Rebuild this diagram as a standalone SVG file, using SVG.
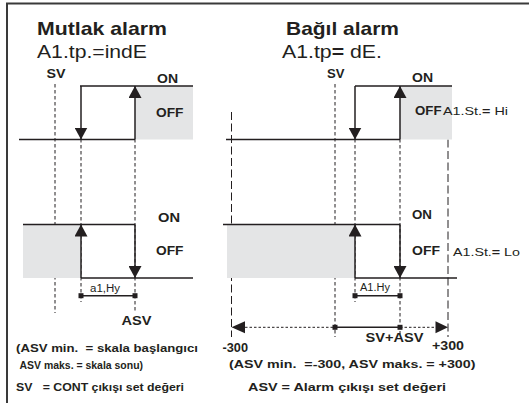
<svg xmlns="http://www.w3.org/2000/svg" width="529" height="403" viewBox="0 0 529 403">
<style>
text{font-family:"Liberation Sans",Arial,Helvetica,sans-serif;fill:#231f20}
.b{font-weight:bold}
.t{font-size:18.5px;font-weight:bold}
.s{font-size:17.5px}
.l{font-size:12px;font-weight:bold}
.n{font-size:11.5px;font-weight:bold}
.h{font-size:10px}
.p{font-size:11.5px}
.ln{stroke:#231f20;stroke-width:1.5;fill:none}
.ar{stroke:#231f20;stroke-width:1.5;fill:none;marker-end:url(#ah)}
.sd{stroke:#231f20;stroke-width:1;stroke-dasharray:3.5 2.5;fill:none}
.ld{stroke:#231f20;stroke-width:1;stroke-dasharray:8 3.5;fill:none}
.dt{stroke:#231f20;stroke-width:1;stroke-dasharray:2.5 2;fill:none}
.g{fill:#e4e5e6}
.m{fill:#231f20}
</style>
<defs>
<marker id="ah" markerUnits="userSpaceOnUse" markerWidth="12" markerHeight="13" viewBox="0 0 12 13" refX="12" refY="6.5" orient="auto">
<path d="M0,0 L12,6.5 L0,13 z" fill="#231f20"/>
</marker>
</defs>

<g id="frame">
<path d="M7,403 V3.5 H529" stroke="#3a3a3a" stroke-width="2" fill="none"/>
</g>

<g id="titles">
<text class="t" x="37" y="35" textLength="130" lengthAdjust="spacingAndGlyphs">Mutlak alarm</text>
<text class="s" x="37" y="58" textLength="110" lengthAdjust="spacingAndGlyphs">A1.tp.=indE</text>
<text class="t" x="286" y="35" textLength="113" lengthAdjust="spacingAndGlyphs">Bağıl alarm</text>
<text class="s" x="282" y="58" textLength="100" lengthAdjust="spacingAndGlyphs">A1.tp<tspan class="b">=</tspan> dE.</text>
</g>

<g id="guides">
<line class="sd" x1="55" y1="84" x2="55" y2="313"/>
<line class="sd" x1="81" y1="139" x2="81" y2="302"/>
<line class="sd" x1="135" y1="139" x2="135" y2="312"/>
<line class="sd" x1="335" y1="84" x2="335" y2="337"/>
<line class="sd" x1="355" y1="139" x2="355" y2="302"/>
<line class="sd" x1="400" y1="139" x2="400" y2="337"/>
<line class="ld" x1="231.5" y1="112" x2="231.5" y2="337"/>
<line class="ld" x1="448" y1="128" x2="448" y2="337"/>
</g>

<g id="abs-high">
<rect class="g" x="135" y="86" width="58" height="53.5"/>
<path class="ln" d="M19,139.5 H135 M80,86 H193"/>
<line class="ar" x1="81" y1="86" x2="81" y2="139.5"/>
<line class="ar" x1="135" y1="139.5" x2="135" y2="86"/>
<text class="l" x="46.5" y="78" textLength="19" lengthAdjust="spacingAndGlyphs">SV</text>
<text class="l" x="157" y="83" textLength="21" lengthAdjust="spacingAndGlyphs">ON</text>
<text class="l" x="156" y="116.5" textLength="27.5" lengthAdjust="spacingAndGlyphs">OFF</text>
</g>

<g id="abs-low">
<rect class="g" x="23" y="224.5" width="58" height="53.5"/>
<path class="ln" d="M23,224.5 H135 M81,278 H193"/>
<line class="ar" x1="81" y1="278" x2="81" y2="224.5"/>
<line class="ar" x1="135" y1="224.5" x2="135" y2="278"/>
<text class="l" x="158" y="221.5" textLength="22" lengthAdjust="spacingAndGlyphs">ON</text>
<text class="l" x="156" y="255" textLength="27.5" lengthAdjust="spacingAndGlyphs">OFF</text>
<line class="ln" x1="81" y1="295.7" x2="135" y2="295.7" stroke-width="1"/>
<rect class="m" x="78.5" y="293.2" width="5" height="5"/>
<rect class="m" x="132.5" y="293.2" width="5" height="5"/>
<text class="h" x="90" y="291.5" textLength="30" lengthAdjust="spacingAndGlyphs">a1,Hy</text>
<text class="l" x="121.5" y="325" textLength="30" lengthAdjust="spacingAndGlyphs">ASV</text>
</g>

<g id="rel-high">
<rect class="g" x="400" y="86" width="52" height="53.5"/>
<path class="ln" d="M226,139.5 H400 M355,86 H452"/>
<line class="ar" x1="355" y1="86" x2="355" y2="139.5"/>
<line class="ar" x1="400" y1="139.5" x2="400" y2="86"/>
<text class="l" x="327" y="78" textLength="17.5" lengthAdjust="spacingAndGlyphs">SV</text>
<text class="l" x="412" y="82" textLength="21" lengthAdjust="spacingAndGlyphs">ON</text>
<text class="l" x="415" y="115" textLength="26.5" lengthAdjust="spacingAndGlyphs">OFF</text>
<text class="p" x="443" y="115" textLength="65" lengthAdjust="spacingAndGlyphs">A1.St.<tspan class="b">=</tspan> Hi</text>
</g>

<g id="rel-low">
<rect class="g" x="227" y="224.5" width="128" height="53.5"/>
<path class="ln" d="M223,224.5 H400 M355,278 H457"/>
<line class="ar" x1="355" y1="278" x2="355" y2="224.5"/>
<line class="ar" x1="400" y1="224.5" x2="400" y2="278"/>
<text class="l" x="412" y="218.5" textLength="20" lengthAdjust="spacingAndGlyphs">ON</text>
<text class="l" x="412" y="255" textLength="28" lengthAdjust="spacingAndGlyphs">OFF</text>
<text class="p" x="453" y="256" textLength="67" lengthAdjust="spacingAndGlyphs">A1.St.<tspan class="b">=</tspan> Lo</text>
<line class="ln" x1="355" y1="295.7" x2="400" y2="295.7" stroke-width="1"/>
<rect class="m" x="352.5" y="293.2" width="5" height="5"/>
<rect class="m" x="397.5" y="293.2" width="5" height="5"/>
<text class="h" x="360" y="290.7" textLength="30" lengthAdjust="spacingAndGlyphs">A1.Hy</text>
</g>

<g id="range">
<line class="dt" x1="245" y1="327.3" x2="335" y2="327.3"/>
<line class="ln" x1="335" y1="327.3" x2="400" y2="327.3" stroke-width="1"/>
<line class="dt" x1="400" y1="327.3" x2="436" y2="327.3"/>
<path class="m" d="M231.5,327.3 L245,321.3 L245,333.3 z"/>
<path class="m" d="M448,327.3 L435.5,321.3 L435.5,333.3 z"/>
<rect class="m" x="332.5" y="324.8" width="5" height="5"/>
<rect class="m" x="397.5" y="324.8" width="5" height="5"/>
<text class="l" x="365.5" y="341.7" textLength="58" lengthAdjust="spacingAndGlyphs">SV+ASV</text>
<text class="l" x="222.5" y="351.7" textLength="25.5" lengthAdjust="spacingAndGlyphs">-300</text>
<text class="l" x="432" y="350" textLength="32" lengthAdjust="spacingAndGlyphs">+300</text>
</g>

<g id="notes">
<text class="n" x="16" y="351.7" textLength="182" lengthAdjust="spacingAndGlyphs" xml:space="preserve">(ASV min.  = skala başlangıcı</text>
<text class="n" x="19.5" y="369" textLength="123.5" lengthAdjust="spacingAndGlyphs">ASV maks. = skala sonu)</text>
<text class="n" x="229" y="368" textLength="246.5" lengthAdjust="spacingAndGlyphs" xml:space="preserve">(ASV min.  =-300, ASV maks. = +300)</text>
<text class="n" x="16" y="390.7" textLength="168" lengthAdjust="spacingAndGlyphs" xml:space="preserve">SV   = CONT çıkışı set değeri</text>
<text class="n" x="248" y="390.7" textLength="198" lengthAdjust="spacingAndGlyphs">ASV = Alarm çıkışı set değeri</text>
</g>
</svg>
